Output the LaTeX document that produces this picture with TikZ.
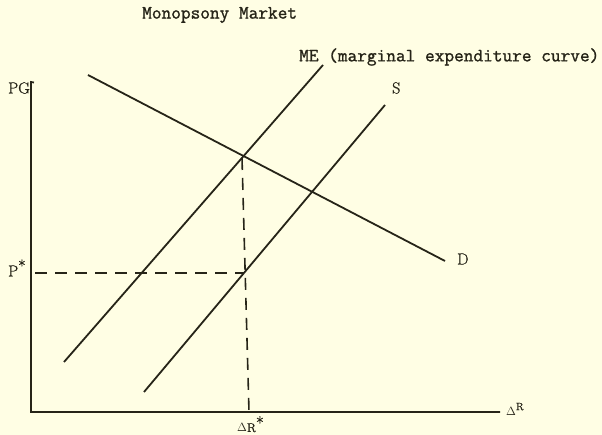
\documentclass[tikz,border=0pt]{standalone}
\usepackage{fontspec}
\newfontfamily\typer[FakeBold=1.2]{Latin Modern Mono}
\newfontfamily\serifer[FakeBold=1.0]{Latin Modern Roman}
\definecolor{paper}{RGB}{255,254,228}
\definecolor{ink}{RGB}{38,36,24}
\begin{document}
\begin{tikzpicture}[x=1pt,y=-1pt,
  curve/.style={draw=ink,line width=1.8pt},
  axisline/.style={draw=ink,line width=1.8pt},
  dashline/.style={draw=ink,line width=1.6pt,dash pattern=on 12pt off 8pt},
  tt/.style={inner sep=0pt,text=ink,font=\fontsize{18.8}{20}\typer},
  rm/.style={inner sep=0pt,text=ink,font=\fontsize{16}{18}\serifer},
  sm/.style={inner sep=0pt,text=ink,font=\fontsize{12.5}{14}\serifer}]
\fill[paper] (0,0) rectangle (602,435);
\useasboundingbox (0,0) rectangle (602,435);
% title
\node[tt,anchor=west] (title) at (142,15) {Monopsony Market};
% axes
\coordinate (ytop) at (31,82);
\coordinate (origin) at (31,412);
\coordinate (xend) at (500,412);
\draw[axisline] (34,82.5) -- (ytop) -- (origin) -- (xend);
% curves
\coordinate (me1) at (64,362);
\coordinate (me2) at (323,65);
\coordinate (d1) at (88,75);
\coordinate (d2) at (445,261);
\coordinate (s1) at (144,392);
\coordinate (s2) at (385,105);
\draw[curve] (me1) -- (me2);
\draw[curve] (d1) -- (d2);
\draw[curve] (s1) -- (s2);
% dashed
\coordinate (eq) at (242,158);
\coordinate (sp) at (244,273);
\coordinate (ypstar) at (35,273);
\coordinate (xr) at (249,412);
\draw[dashline] (eq) -- (xr);
\draw[dashline] (ypstar) -- (sp);
% labels
\node[tt,anchor=west] (melab) at (299,57) {ME (marginal expenditure curve)};
\node[rm,anchor=west] (slab) at (392,88) {S};
\node[rm,anchor=west] (dlab) at (457,259) {D};
\node[rm,anchor=west] (pg) at (8,88) {PG};
\node[rm,anchor=west] (pstar) at (8,268) {P\raisebox{5pt}{*}};
\node[sm,anchor=north west] (drstar) at (237,416) {$\Delta$R\raisebox{3pt}{\fontsize{17}{17}\selectfont *}};
\node[sm,anchor=west] (dr) at (506,409) {$\Delta$\raisebox{5pt}{\fontsize{10.5}{10}\selectfont R}};
\end{tikzpicture}
\end{document}
